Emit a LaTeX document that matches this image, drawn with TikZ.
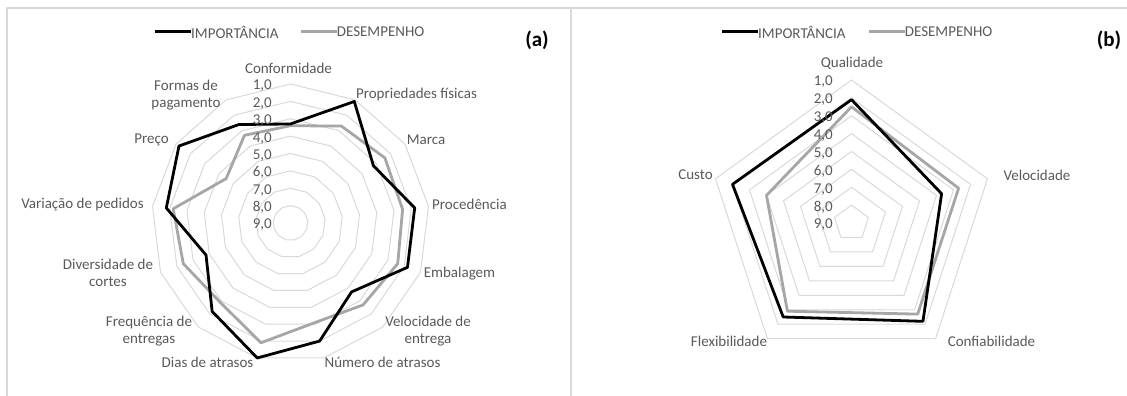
\documentclass[tikz,border=0pt]{standalone}
\usepackage{fontspec}
\setmainfont{Carlito}
\usepackage{tikz}
\usetikzlibrary{positioning}
\definecolor{cinzagrade}{HTML}{D9D9D9}
\definecolor{cinzades}{HTML}{A6A6A6}
\definecolor{cinzatexto}{HTML}{595959}

\begin{document}
\begin{tikzpicture}[
    x=1pt, y=-1pt,
    moldura/.style={draw=cinzagrade, line width=1.3pt},
    grade/.style={draw=cinzagrade, line width=1pt},
    imp/.style={draw=black, line width=2.8pt, line join=round},
    des/.style={draw=cinzades, line width=2.8pt, line join=round},
    rotulo/.style={font=\fontsize{15}{17}\selectfont, text=cinzatexto, align=center, inner sep=0pt},
    escala/.style={rotulo, anchor=east},
    painel/.style={font=\fontsize{21}{24}\selectfont\bfseries, inner sep=0pt}
]
    \useasboundingbox (0,0) rectangle (1127,396);

    % Moldura
    \draw[moldura] (7,396) -- (7,8) -- (1127,8);
    \draw[moldura] (571,8) -- (571,396);

    % Grafico (a)
    \begin{scope}[shift={(290.5,223)}]
        \foreach \n in {1,...,8}
            \draw[grade] (-90:{(9-\n)*17.375}) \foreach \k in {1,...,12}{ -- ({\k*360/13-90}:{(9-\n)*17.375}) } -- cycle;
        \foreach \v [count=\k from 0] in {3.4,2.7,2.4,2.5,2.4,2.7,3.1,1.9,2.9,2.4,2.2,4.5,3.3}
            \coordinate (da\k) at ({\k*360/13-90}:{(9-\v)*17.375});
        \foreach \v [count=\k from 0] in {3.3,1.1,3.2,1.8,1.8,3.7,2.0,1.0,2.2,3.8,1.8,1.2,2.6}
            \coordinate (ia\k) at ({\k*360/13-90}:{(9-\v)*17.375});
        \draw[des] (da0) \foreach \k in {1,...,12}{ -- (da\k) } -- cycle;
        \draw[imp] (ia0) \foreach \k in {1,...,12}{ -- (ia\k) } -- cycle;
    \end{scope}
    \foreach \n in {1,...,9}
        \node[escala] (ea\n) at (272,{223-(9-\n)*17.375+2}) {\n,0};

    \node[rotulo] (conf) at (288.5,68) {Conformidade};
    \node[rotulo] (prop) at (416.5,95) {Propriedades físicas};
    \node[rotulo] (marca) at (426,140) {Marca};
    \node[rotulo] (proc) at (469.5,204) {Procedência};
    \node[rotulo] (emb) at (459.5,274) {Embalagem};
    \node[rotulo] (veloc) at (428,331) {Velocidade de\\entrega};
    \node[rotulo] (numatr) at (382.5,362) {Número de atrasos};
    \node[rotulo] (diasatr) at (207.5,362) {Dias de atrasos};
    \node[rotulo] (freq) at (149,331) {Frequência de\\entregas};
    \node[rotulo] (divers) at (108,273) {Diversidade de\\cortes};
    \node[rotulo] (varped) at (82.5,205) {Variação de pedidos};
    \node[rotulo] (preco) at (151.5,140) {Preço};
    \node[rotulo] (formas) at (186,95) {Formas de\\pagamento};

    \node[rotulo, anchor=west] (legimpa) at (191,32) {IMPORTÂNCIA};
    \node[rotulo, anchor=west, right=58pt of legimpa] (legdesa) {DESEMPENHO};
    \draw[imp, line width=3pt] (legimpa.west) -- ++(-36,0);
    \draw[des, line width=3pt] (legdesa.west) -- ++(-36,0);
    \node[painel] (pa) at (537,40) {(a)};

    % Grafico (b)
    \begin{scope}[shift={(851.5,223)}]
        \foreach \n in {1,...,8}
            \draw[grade] (-90:{(9-\n)*17.875}) \foreach \k in {1,...,4}{ -- ({\k*72-90}:{(9-\n)*17.875}) } -- cycle;
        \foreach \v [count=\k from 0] in {2.5,2.7,2.7,2.9,4.0}
            \coordinate (db\k) at ({\k*72-90}:{(9-\v)*17.875});
        \foreach \v [count=\k from 0] in {2.1,3.7,2.2,2.5,2.0}
            \coordinate (ib\k) at ({\k*72-90}:{(9-\v)*17.875});
        \draw[des] (db0) \foreach \k in {1,...,4}{ -- (db\k) } -- cycle;
        \draw[imp] (ib0) \foreach \k in {1,...,4}{ -- (ib\k) } -- cycle;
    \end{scope}
    \foreach \n in {1,...,9}
        \node[escala] (eb\n) at (833,{223-(9-\n)*17.875+2}) {\n,0};

    \node[rotulo] (qual) at (852,63) {Qualidade};
    \node[rotulo] (velb) at (1037,175) {Velocidade};
    \node[rotulo] (custo) at (695.5,175) {Custo};
    \node[rotulo] (flex) at (729,341) {Flexibilidade};
    \node[rotulo] (confb) at (991.5,341) {Confiabilidade};

    \node[rotulo, anchor=west] (legimpb) at (758,32) {IMPORTÂNCIA};
    \node[rotulo, anchor=west, right=59pt of legimpb] (legdesb) {DESEMPENHO};
    \draw[imp, line width=3pt] (legimpb.west) -- ++(-36,0);
    \draw[des, line width=3pt] (legdesb.west) -- ++(-36,0);
    \node[painel] (pb) at (1109,40) {(b)};
\end{tikzpicture}
\end{document}
